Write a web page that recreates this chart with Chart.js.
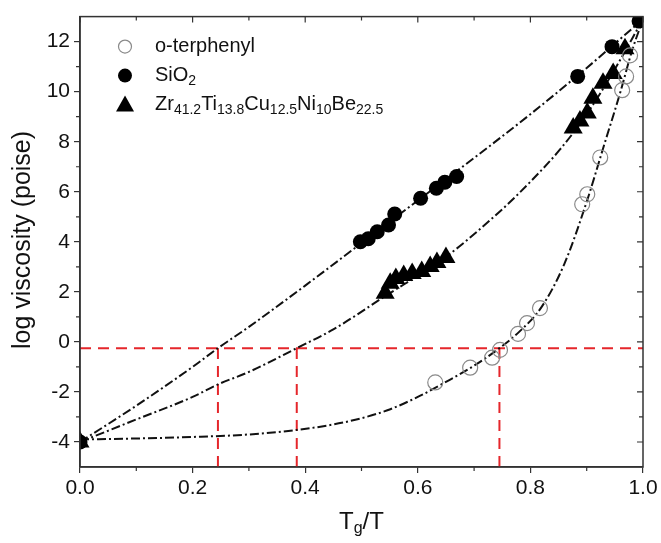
<!DOCTYPE html>
<html>
<head>
<meta charset="utf-8">
<script src="https://cdn.jsdelivr.net/npm/chart.js@4.4.0/dist/chart.umd.min.js"></script>
<style>
  html, body { margin: 0; padding: 0; background: #fff; }
  #wrap { width: 661px; height: 543px; position: relative; }
</style>
</head>
<body>
<div id="wrap"><canvas id="chart"></canvas></div>
<script>
const otpX = [0.631, 0.693, 0.732, 0.746, 0.778, 0.794, 0.817, 0.892, 0.901, 0.924, 0.963, 0.970, 0.977];
const otpY = [-1.62, -1.03, -0.63, -0.32, 0.32, 0.75, 1.35, 5.50, 5.90, 7.37, 10.06, 10.61, 11.45];

const sioX = [0.0, 0.498, 0.512, 0.528, 0.548, 0.559, 0.605, 0.633, 0.648, 0.669, 0.884, 0.945, 0.993];
const sioY = [-4.0, 4.00, 4.12, 4.40, 4.67, 5.11, 5.74, 6.14, 6.38, 6.61, 10.61, 11.80, 12.82];

const zrX = [0.0, 0.542, 0.551, 0.561, 0.575, 0.590, 0.607, 0.622, 0.634, 0.650, 0.876, 0.888, 0.901, 0.911, 0.929, 0.947, 0.968];
const zrY = [-4.0, 1.94, 2.34, 2.53, 2.65, 2.73, 2.81, 3.01, 3.17, 3.37, 8.55, 8.83, 9.15, 9.74, 10.34, 10.73, 11.72];

// fitted curves
const otpFitX = [0.0, 0.1, 0.2, 0.3, 0.385, 0.45, 0.5, 0.55, 0.6, 0.65, 0.7, 0.745, 0.78, 0.82, 0.86, 0.9, 0.93, 0.96, 0.98, 1.0];
const otpFitY = [-3.9, -3.86, -3.8, -3.7, -3.52, -3.3, -3.05, -2.7, -2.2, -1.6, -0.95, -0.25, 0.4, 1.4, 3.1, 5.6, 7.8, 10.0, 11.6, 12.9];

const sioFitX = [0.0, 0.1, 0.2, 0.245, 0.3, 0.4, 0.5, 0.6, 0.7, 0.8, 0.9, 1.0];
const sioFitY = [-4.0, -2.55, -1.0, -0.25, 0.6, 2.25, 3.95, 5.65, 7.35, 9.1, 10.95, 12.9];

const zrFitX = [0.0, 0.1, 0.2, 0.245, 0.3, 0.385, 0.45, 0.54, 0.65, 0.75, 0.8, 0.853, 0.9, 0.95, 1.0];
const zrFitY = [-4.0, -3.1, -2.2, -1.7, -1.2, -0.25, 0.5, 1.8, 3.4, 5.3, 6.4, 7.7, 9.1, 10.9, 12.9];

// red guide lines
const guideY = -0.25;
const guideX = [0.245, 0.385, 0.745];

// axes
const xMin = 0, xMax = 1, yMin = -5, yMax = 13;
const xMajorTicks = [0, 0.2, 0.4, 0.6, 0.8, 1.0];
const xMinorTicks = [0.1, 0.3, 0.5, 0.7, 0.9];
const yMajorTicks = [-4, -2, 0, 2, 4, 6, 8, 10, 12];
const yMinorTicks = [-3, -1, 1, 3, 5, 7, 9, 11];

const legendRows = [
    { style: 'open', parts: [['o-terphenyl', false]] },
    { style: 'circle', parts: [['SiO', false], ['2', true]] },
    { style: 'triangle', parts: [['Zr', false], ['41.2', true], ['Ti', false], ['13.8', true], ['Cu', false], ['12.5', true], ['Ni', false], ['10', true], ['Be', false], ['22.5', true]] }
];

const FONT = "'Liberation Sans', Arial, sans-serif";
const AXIS_COLOR = '#333';
const RED = '#e5262b';

function zip(xs, ys) {
    return xs.map((x, i) => ({ x: x, y: ys[i] }));
}

function drawRich(ctx, parts, x, y, size) {
    let cx = x;
    parts.forEach(([text, sub]) => {
        ctx.font = (sub ? Math.round(size * 0.68) : size) + 'px ' + FONT;
        ctx.fillText(text, cx, sub ? y + size * 0.28 : y);
        cx += ctx.measureText(text).width;
    });
    return cx - x;
}

function drawMarker(ctx, style, x, y) {
    ctx.save();
    if (style === 'open') {
        ctx.beginPath();
        ctx.arc(x, y, 6.5, 0, Math.PI * 2);
        ctx.strokeStyle = '#8a8a8a';
        ctx.lineWidth = 1.2;
        ctx.stroke();
    } else if (style === 'circle') {
        ctx.beginPath();
        ctx.arc(x, y, 7, 0, Math.PI * 2);
        ctx.fillStyle = '#000';
        ctx.fill();
    } else {
        ctx.beginPath();
        ctx.moveTo(x, y - 9);
        ctx.lineTo(x + 9, y + 7);
        ctx.lineTo(x - 9, y + 7);
        ctx.closePath();
        ctx.fillStyle = '#000';
        ctx.fill();
    }
    ctx.restore();
}

// frame, minor/mirrored ticks, titles and legend
const decorPlugin = {
    id: 'decor',
    afterDraw(chart) {
        const ctx = chart.ctx;
        const a = chart.chartArea;
        const xs = chart.scales.x, ys = chart.scales.y;
        ctx.save();
        ctx.strokeStyle = AXIS_COLOR;
        ctx.lineWidth = 1.5;
        ctx.strokeRect(a.left, a.top, a.right - a.left, a.bottom - a.top);

        ctx.lineWidth = 1.2;
        ctx.beginPath();
        xMajorTicks.forEach(v => {
            const px = xs.getPixelForValue(v);
            ctx.moveTo(px, a.top); ctx.lineTo(px, a.top + 6);
        });
        xMinorTicks.forEach(v => {
            const px = xs.getPixelForValue(v);
            ctx.moveTo(px, a.bottom); ctx.lineTo(px, a.bottom + 4);
            ctx.moveTo(px, a.top); ctx.lineTo(px, a.top + 4);
        });
        yMajorTicks.forEach(v => {
            const py = ys.getPixelForValue(v);
            ctx.moveTo(a.right, py); ctx.lineTo(a.right - 6, py);
        });
        yMinorTicks.forEach(v => {
            const py = ys.getPixelForValue(v);
            ctx.moveTo(a.left, py); ctx.lineTo(a.left - 4, py);
            ctx.moveTo(a.right, py); ctx.lineTo(a.right - 4, py);
        });
        ctx.stroke();

        // axis titles
        ctx.fillStyle = '#111';
        ctx.textBaseline = 'middle';
        ctx.font = '25px ' + FONT;
        ctx.save();
        ctx.translate(23, 240);
        ctx.rotate(-Math.PI / 2);
        ctx.textAlign = 'center';
        ctx.fillText('log viscosity (poise)', 0, 0);
        ctx.restore();

        ctx.textAlign = 'left';
        const xt = [['T', false], ['g', true], ['/T', false]];
        let w = 0;
        xt.forEach(([t, s]) => {
            ctx.font = (s ? 16 : 24) + 'px ' + FONT;
            w += ctx.measureText(t).width;
        });
        drawRich(ctx, xt, (a.left + a.right) / 2 - w / 2, 522, 24);

        // legend
        const lx = a.left + 45, tx = a.left + 75;
        legendRows.forEach((row, i) => {
            const ly = a.top + 30 + i * 29;
            drawMarker(ctx, row.style, lx, ly);
            ctx.fillStyle = '#111';
            drawRich(ctx, row.parts, tx, ly, 20);
        });
        ctx.restore();
    }
};

const lineStyle = { showLine: true, pointRadius: 0, borderColor: '#111', borderWidth: 2, borderDash: [9, 3, 2, 3], cubicInterpolationMode: 'monotone', fill: false };
const redStyle = { showLine: true, pointRadius: 0, borderColor: RED, borderWidth: 2, borderDash: [11, 7], fill: false };

const datasets = [
    { label: 'o-terphenyl', data: zip(otpX, otpY), pointStyle: 'circle', pointRadius: 7.5, backgroundColor: 'rgba(255,255,255,0)', borderColor: '#8a8a8a', borderWidth: 1.2 },
    { label: 'SiO2', data: zip(sioX, sioY), pointStyle: 'circle', pointRadius: 7.5, backgroundColor: '#000', borderColor: '#000', borderWidth: 0 },
    { label: 'Zr', data: zip(zrX, zrY), pointStyle: 'triangle', pointRadius: 11, backgroundColor: '#000', borderColor: '#000', borderWidth: 0 },
    Object.assign({ label: 'otp fit', data: zip(otpFitX, otpFitY) }, lineStyle),
    Object.assign({ label: 'SiO2 fit', data: zip(sioFitX, sioFitY) }, lineStyle),
    Object.assign({ label: 'Zr fit', data: zip(zrFitX, zrFitY) }, lineStyle),
    Object.assign({ label: 'guide h', data: [{ x: xMin, y: guideY }, { x: xMax, y: guideY }] }, redStyle)
];
guideX.forEach((gx, i) => {
    datasets.push(Object.assign({ label: 'guide v' + i, data: [{ x: gx, y: yMin }, { x: gx, y: guideY }] }, redStyle));
});

const tickFont = { family: FONT, size: 21 };

new Chart(document.getElementById('chart'), {
    type: 'scatter',
    data: { datasets: datasets },
    options: {
        responsive: true,
        maintainAspectRatio: false,
        animation: false,
        layout: { padding: { left: 0, top: 13, right: 18, bottom: 0 } },
        plugins: { legend: { display: false }, tooltip: { enabled: false } },
        scales: {
            x: {
                type: 'linear', min: xMin, max: xMax,
                afterBuildTicks: s => { s.ticks = xMajorTicks.map(v => ({ value: v })); },
                afterFit: s => { s.height = 76; },
                ticks: { font: tickFont, color: '#111', padding: 3, maxRotation: 0, callback: v => v.toFixed(1) },
                grid: { drawOnChartArea: false, drawTicks: true, tickLength: 6, color: AXIS_COLOR, lineWidth: 1.2 },
                border: { color: AXIS_COLOR, width: 1.5 }
            },
            y: {
                type: 'linear', min: yMin, max: yMax,
                afterBuildTicks: s => { s.ticks = yMajorTicks.map(v => ({ value: v })); },
                afterFit: s => { s.width = 80; },
                ticks: { font: tickFont, color: '#111', padding: 4 },
                grid: { drawOnChartArea: false, drawTicks: true, tickLength: 6, color: AXIS_COLOR, lineWidth: 1.2 },
                border: { color: AXIS_COLOR, width: 1.5 }
            }
        }
    },
    plugins: [decorPlugin]
});
</script>
</body>
</html>
